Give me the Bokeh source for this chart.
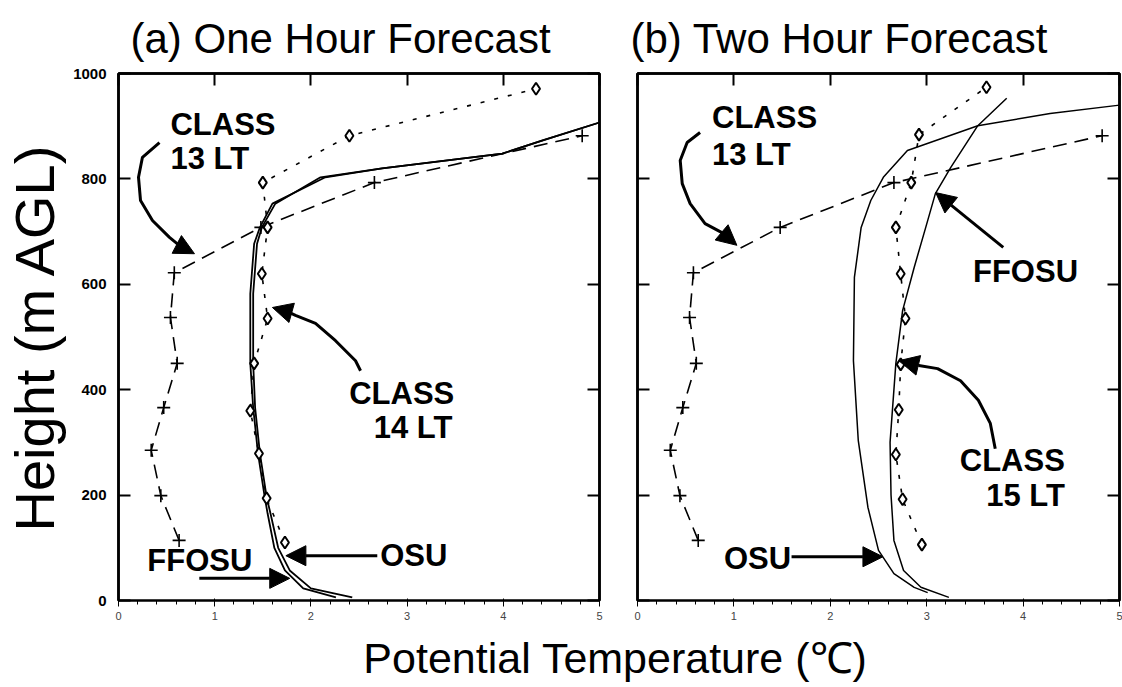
from bokeh.plotting import figure
from bokeh.models import Range1d, FixedTicker, LinearAxis, Label, Arrow, NormalHead
from bokeh.layouts import row, column
from bokeh.embed import file_html
from bokeh.resources import INLINE

# ---------------- data (potential temperature in deg C, height in m AGL) ----------------
x_ticks = [0, 1, 2, 3, 4, 5]
y_ticks = [0, 200, 400, 600, 800, 1000]

# CLASS sounding 13 LT (same in both panels)
class13_temp = [0.63, 0.44, 0.34, 0.47, 0.61, 0.54, 0.58, 1.48, 2.66, 4.82]
class13_height = [114, 199, 285, 366, 450, 537, 622, 708, 793, 882]

# CLASS sounding 14 LT (panel a)
class14_temp = [1.73, 1.54, 1.46, 1.37, 1.41, 1.55, 1.49, 1.55, 1.50, 2.40, 4.34]
class14_height = [110, 194, 279, 360, 450, 535, 620, 708, 793, 882, 971]

# CLASS sounding 15 LT (panel b)
class15_temp = [2.95, 2.75, 2.68, 2.71, 2.73, 2.78, 2.73, 2.68, 2.84, 2.92, 3.62]
class15_height = [106, 192, 277, 362, 448, 535, 620, 708, 793, 884, 974]

# Model forecasts, panel a (one hour)
osu_a_height = [6, 23, 57, 100, 165, 196, 279, 366, 450, 582, 677, 708, 753, 803, 820, 848, 873, 907]
osu_a_temp = [2.43, 2.00, 1.78, 1.66, 1.58, 1.54, 1.47, 1.42, 1.40, 1.40, 1.44, 1.49, 1.63, 2.10, 2.74, 3.99, 4.41, 5.0]
ffosu_a_height = [6, 23, 57, 100, 165, 196, 279, 366, 450, 582, 677, 708, 753, 803, 820, 848, 873, 907]
ffosu_a_temp = [2.26, 1.92, 1.73, 1.62, 1.55, 1.52, 1.45, 1.40, 1.37, 1.37, 1.41, 1.47, 1.60, 2.15, 2.74, 3.99, 4.41, 5.0]

# Model forecasts, panel b (two hour)
osu_b_height = [15, 25, 51, 95, 177, 304, 455, 613, 708, 759, 803, 854, 901, 924, 940]
osu_b_temp = [3.01, 2.87, 2.66, 2.50, 2.39, 2.29, 2.24, 2.25, 2.32, 2.42, 2.55, 2.80, 3.53, 4.28, 5.0]
ffosu_b_height = [6, 25, 57, 114, 200, 300, 450, 550, 632, 708, 772, 822, 901, 953]
ffosu_b_temp = [3.23, 2.94, 2.76, 2.66, 2.63, 2.62, 2.68, 2.75, 2.87, 2.99, 3.09, 3.25, 3.53, 3.83]

titles = ["(a)  One Hour Forecast", "(b) Two Hour Forecast"]
x_label = "Potential Temperature (\u2103)"
y_label = "Height (m AGL)"

FONT = "Liberation Sans"


def style_axis(ax, ticks, show_labels, standoff=8):
    ax.ticker = FixedTicker(ticks=ticks)
    ax.major_tick_in = 12
    ax.major_tick_out = 0
    ax.minor_tick_in = 0
    ax.minor_tick_out = 0
    ax.axis_line_width = 2.5
    ax.axis_line_color = "black"
    ax.major_tick_line_width = 2
    ax.major_tick_line_color = "black"
    ax.major_label_text_font = FONT
    ax.major_label_text_font_style = "bold"
    ax.major_label_text_font_size = "15px"
    ax.major_label_text_color = "black"
    if show_labels:
        ax.major_label_standoff = standoff
    else:
        ax.major_label_overrides = {t: "" for t in ticks}
        ax.major_label_standoff = 0


def make_panel(title, frame_w, border_left, border_right, title_offset, show_ylabels):
    p = figure(frame_width=frame_w, frame_height=527,
               x_range=Range1d(0, 5), y_range=Range1d(0, 1000),
               output_backend="svg", toolbar_location=None,
               min_border_left=border_left, min_border_right=border_right,
               min_border_top=73, min_border_bottom=30,
               background_fill_color="white", border_fill_color="white")
    p.grid.visible = False
    p.outline_line_color = "black"
    p.outline_line_width = 2.5
    p.title.text = title
    p.title.text_font = FONT
    p.title.text_font_style = "normal"
    p.title.text_font_size = "42px"
    p.title.align = "left"
    p.title.offset = title_offset
    p.title.standoff = 24
    p.title.text_color = "black"
    top = LinearAxis()
    right = LinearAxis()
    p.add_layout(top, "above")
    p.add_layout(right, "right")
    style_axis(p.xaxis[0], x_ticks, True, 12)
    style_axis(top, x_ticks, False)
    style_axis(p.yaxis[0], y_ticks, show_ylabels, 12)
    style_axis(right, y_ticks, False)
    if show_ylabels:
        ax = p.yaxis[0]
        ax.axis_label = y_label
        ax.axis_label_text_font = FONT
        ax.axis_label_text_font_style = "normal"
        ax.axis_label_text_font_size = "56px"
        ax.axis_label_standoff = 4
        ax.axis_label_text_color = "black"
    return p


def text(p, x, y, s, align="left"):
    p.add_layout(Label(x=x, y=y, text=s, text_font=FONT, text_font_style="bold",
                       text_font_size="31px", text_align=align, text_baseline="middle",
                       text_color="black"))


def curve_arrow(p, xs, ys, tip):
    p.line(xs, ys, line_color="black", line_width=3)
    p.add_layout(Arrow(end=NormalHead(size=20, fill_color="black", line_color="black"),
                       x_start=xs[-1], y_start=ys[-1], x_end=tip[0], y_end=tip[1],
                       line_color="black", line_width=3))


def straight_arrow(p, start, tip):
    p.add_layout(Arrow(end=NormalHead(size=20, fill_color="black", line_color="black"),
                       x_start=start[0], y_start=start[1], x_end=tip[0], y_end=tip[1],
                       line_color="black", line_width=3))


def class_series(p, t, h, dash, marker, msize):
    p.line(t, h, line_color="black", line_width=1.6, line_dash=dash)
    if marker == "cross":
        p.scatter(t, h, marker="cross", size=msize, line_color="black", line_width=1.6)
    else:
        p.scatter(t, h, marker="diamond", size=msize, fill_color="white",
                  line_color="black", line_width=2)


# ---------------- panel (a) ----------------
pa = make_panel(titles[0], 481, 116, 10, 12, True)
pa.line(ffosu_a_temp, ffosu_a_height, line_color="black", line_width=1.8)
pa.line(osu_a_temp, osu_a_height, line_color="black", line_width=1.8)
class_series(pa, class13_temp, class13_height, "14 8", "cross", 13)
class_series(pa, class14_temp, class14_height, "4 10", "diamond", 12)

text(pa, 0.54, 904, "CLASS")
text(pa, 0.54, 839, "13 LT")
curve_arrow(pa, [0.426, 0.249, 0.208, 0.229, 0.353, 0.530, 0.644],
            [869, 841, 803, 759, 721, 689, 672], (0.79, 658))
text(pa, 3.49, 392, "CLASS", "right")
text(pa, 3.47, 328, "14 LT", "right")
curve_arrow(pa, [2.516, 2.464, 2.256, 2.048, 1.840, 1.757],
            [436, 455, 493, 526, 541, 548], (1.60, 556))
text(pa, 2.72, 85, "OSU")
straight_arrow(pa, (2.69, 85), (1.74, 85))
text(pa, 0.30, 76, "FFOSU")
straight_arrow(pa, (0.84, 42), (1.78, 42))

# ---------------- panel (b) ----------------
pb = make_panel(titles[1], 482, 28, 3, -7, False)
pb.line(osu_b_temp, osu_b_height, line_color="black", line_width=1.5)
pb.line(ffosu_b_temp, ffosu_b_height, line_color="black", line_width=1.5)
class_series(pb, class13_temp, class13_height, "14 8", "cross", 13)
class_series(pb, class15_temp, class15_height, "4 10", "diamond", 12)

text(pb, 0.773, 917, "CLASS")
text(pb, 0.773, 847, "13 LT")
curve_arrow(pb, [0.649, 0.515, 0.443, 0.464, 0.546, 0.701, 0.876],
            [888, 869, 835, 791, 753, 715, 698], (1.031, 674))
text(pb, 3.48, 624, "FFOSU")
straight_arrow(pb, (3.794, 670), (3.093, 774))
text(pb, 4.433, 266, "CLASS", "right")
text(pb, 4.433, 199, "15 LT", "right")
curve_arrow(pb, [3.711, 3.660, 3.536, 3.351, 3.113, 2.918],
            [288, 336, 380, 417, 440, 446], (2.711, 455))
text(pb, 0.897, 79, "OSU")
straight_arrow(pb, (1.598, 83), (2.546, 83))

# ---------------- shared x-axis label ----------------
LAB_H = 55
lab = figure(width=1120, height=LAB_H, x_range=Range1d(0, 1), y_range=Range1d(0, 1),
             x_axis_type=None, y_axis_type=None, output_backend="svg",
             toolbar_location=None, min_border=0, outline_line_color=None,
             background_fill_color="white", border_fill_color="white")
lab.grid.visible = False
lab.add_layout(Label(x=615 / 1120, y=0.5, text=x_label, text_font=FONT,
                     text_font_size="43px", text_align="center", text_baseline="middle",
                     text_color="black"))

layout = column(row(pa, pb), lab)
open("out.html", "w").write(file_html(layout, INLINE))
